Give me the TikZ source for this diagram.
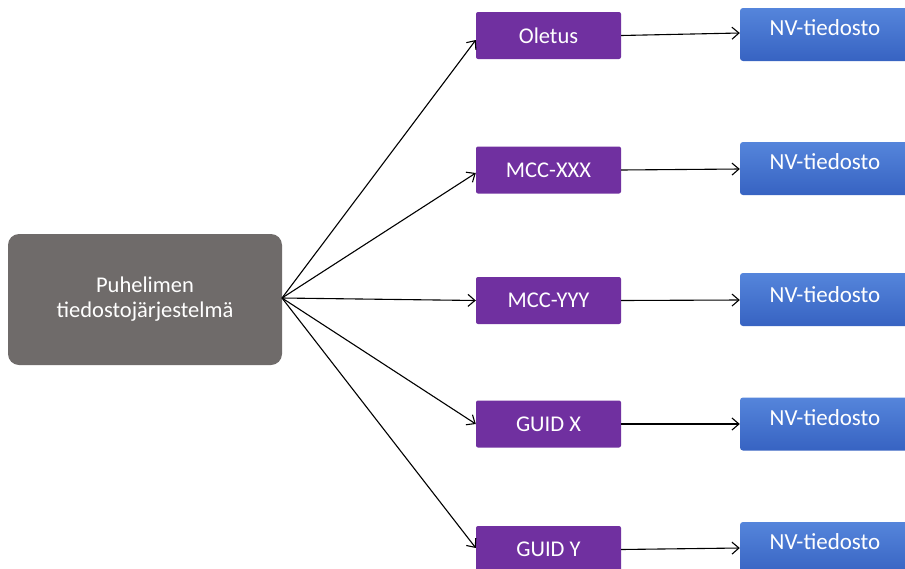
\documentclass[tikz,border=0pt]{standalone}
\usepackage{fontspec}
\setmainfont{Carlito}
\usetikzlibrary{arrows.meta}
\definecolor{rootgray}{HTML}{6F6B6A}
\definecolor{cfgpurple}{HTML}{7030A0}
\definecolor{nvtop}{HTML}{5585DB}
\definecolor{nvbot}{HTML}{3763C2}
\tikzset{
  rootbox/.style={fill=rootgray, rounded corners=11pt, inner sep=0pt, text=white,
    font=\fontsize{22.5}{25}\selectfont, align=center},
  cfgbox/.style={fill=cfgpurple, rounded corners=2pt, minimum width=145pt,
    minimum height=47pt, inner sep=0pt, text=white, font=\fontsize{22.5}{26}\selectfont},
  nvbox/.style={top color=nvtop, bottom color=nvbot, rounded corners=3pt,
    minimum width=170pt, minimum height=53pt, inner sep=0pt},
  nvlabel/.style={text=white, font=\fontsize{23}{26}\selectfont, inner sep=0pt},
  link/.style={draw=black, line width=1.1pt, -{Straight Barb[length=7pt,width=12pt]}},
}
\begin{document}
\begin{tikzpicture}[x=1pt, y=-1pt]
\useasboundingbox (0,0) rectangle (905,568);

% root
\node[rootbox, minimum width=274pt, minimum height=131pt] (root) at (145,299.5)
  {Puhelimen\\tiedostojärjestelmä};

% configuration folders
\node[cfgbox] (c1) at (548.5,35.5) {Oletus};
\node[cfgbox] (c2) at (548.5,170) {MCC-XXX};
\node[cfgbox] (c3) at (548.5,300.5) {MCC-YYY};
\node[cfgbox] (c4) at (548.5,424) {GUID X};
\node[cfgbox] (c5) at (548.5,549.5) {GUID Y};

% NV files
\node[nvbox] (n1) at (825,34.5) {};
\node[nvbox] (n2) at (825,168.5) {};
\node[nvbox] (n3) at (825,299.5) {};
\node[nvbox] (n4) at (825,424) {};
\node[nvbox] (n5) at (825,548.5) {};
\foreach \i/\y in {1/28,2/162,3/295,4/418,5/542}{
  \node[nvlabel] (t\i) at (825,\y) {NV-tiedosto};
}

% connectors
\coordinate (src) at (282,298);
\draw[link] (src) -- (c1.west |- 0,40);
\draw[link] (src) -- (c2.west |- 0,173);
\draw[link] (src) -- (c3.west);
\draw[link] (src) -- (c4.west);
\draw[link] (src) -- (c5.west |- 0,548);

\draw[link] (c1.east) -- (n1.west |- 0,33);
\draw[link] (c2.east) -- (n2.west |- 0,169);
\draw[link] (c3.east) -- (n3.west |- 0,300);
\draw[link] (c4.east) -- (n4.west |- 0,424);
\draw[link] (c5.east) -- (n5.west |- 0,548);
\end{tikzpicture}
\end{document}
